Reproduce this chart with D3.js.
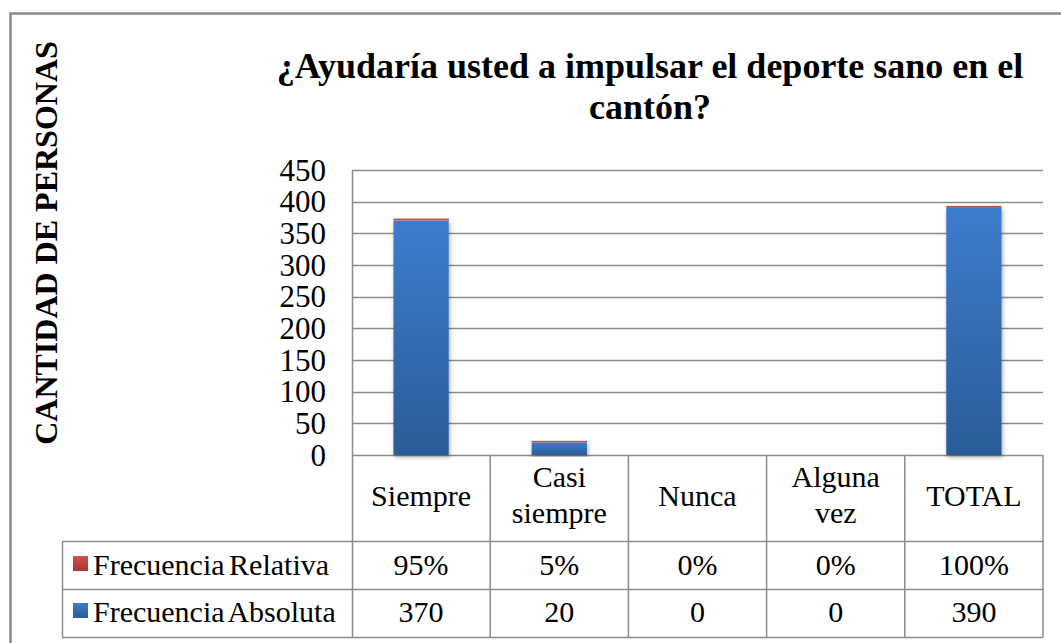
<!DOCTYPE html>
<html>
<head>
<meta charset="utf-8">
<script src="https://cdn.jsdelivr.net/npm/d3@7"></script>
<style>
  body { margin: 0; background: #fff; }
</style>
</head>
<body>
<div id="chart"></div>
<script>
// data
var categories = ["Siempre", "Casi siempre", "Nunca", "Alguna vez", "TOTAL"];
var categoryLines = [["Siempre"], ["Casi", "siempre"], ["Nunca"], ["Alguna", "vez"], ["TOTAL"]];
var absoluta = [370, 20, 0, 0, 390];
var relativa = [0.95, 0.05, 0, 0, 1];
var relativaLabels = ["95%", "5%", "0%", "0%", "100%"];
var absolutaLabels = ["370", "20", "0", "0", "390"];
var seriesNames = ["Frecuencia Relativa", "Frecuencia Absoluta"];

var serif = "'Liberation Serif', 'Times New Roman', serif";
var width = 1061, height = 643;
var plot = {left: 352, right: 1043, top: 170, bottom: 455};
var tableLeft = 62, rowTop = 541, rowMid = 589, rowBottom = 637;

var svg = d3.select("#chart").append("svg")
	.attr("width", width)
	.attr("height", height)
	.attr("font-family", serif);

var defs = svg.append("defs");

var blueGrad = defs.append("linearGradient").attr("id", "blueGrad")
	.attr("x1", 0).attr("y1", 0).attr("x2", 0).attr("y2", 1);
blueGrad.append("stop").attr("offset", "0%").attr("stop-color", "#3b7dcd");
blueGrad.append("stop").attr("offset", "100%").attr("stop-color", "#2b5c98");

var redGrad = defs.append("linearGradient").attr("id", "redGrad")
	.attr("x1", 0).attr("y1", 0).attr("x2", 0).attr("y2", 1);
redGrad.append("stop").attr("offset", "0%").attr("stop-color", "#d2504c");
redGrad.append("stop").attr("offset", "100%").attr("stop-color", "#a83532");

var shadow = defs.append("filter").attr("id", "shadow")
	.attr("x", "-20%").attr("y", "-5%").attr("width", "150%").attr("height", "115%");
shadow.append("feDropShadow")
	.attr("dx", 1).attr("dy", 2).attr("stdDeviation", 2)
	.attr("flood-color", "#000").attr("flood-opacity", 0.35);

// outer frame (runs off the right and bottom edge)
svg.append("rect")
	.attr("x", 10.5).attr("y", 13.5)
	.attr("width", 1100).attr("height", 700)
	.attr("fill", "none")
	.attr("stroke", "#8a8a8a")
	.attr("stroke-width", 2.5);

var x = d3.scaleBand()
	.domain(categories)
	.range([plot.left, plot.right])
	.paddingInner(0)
	.paddingOuter(0);

var y = d3.scaleLinear()
	.domain([0, 450])
	.range([plot.bottom, plot.top]);

var ticks = y.ticks(9);

function txt(sel, size, weight) {
	return sel.style("font-family", serif)
		.style("font-size", size + "px")
		.style("font-weight", weight || "normal")
		.attr("fill", "#000");
}

// gridlines
svg.append("g")
	.selectAll("line")
	.data(ticks)
	.enter().append("line")
	.attr("x1", plot.left)
	.attr("x2", plot.right)
	.attr("y1", function(d) { return Math.round(y(d)) + 0.5; })
	.attr("y2", function(d) { return Math.round(y(d)) + 0.5; })
	.attr("stroke", "#8c8c8c")
	.attr("stroke-width", 1.5);

// y tick labels
txt(svg.append("g")
	.selectAll("text")
	.data(ticks)
	.enter().append("text")
	.attr("x", 326)
	.attr("y", function(d) { return y(d); })
	.attr("dy", "0.34em")
	.attr("text-anchor", "end")
	.text(function(d) { return d; }), 31);

// stacked bars: absoluta bottom, relativa on top
var rows = categories.map(function(c, i) {
	return {cat: c, abs: absoluta[i], rel: relativa[i]};
});
var stacked = d3.stack().keys(["abs", "rel"])(rows);

var barW = x.bandwidth() * 0.4;
var barOff = (x.bandwidth() - barW) / 2;

svg.append("g")
	.selectAll("rect")
	.data(stacked[0].filter(function(d) { return d[1] > d[0]; }))
	.enter().append("rect")
	.attr("x", function(d) { return x(d.data.cat) + barOff; })
	.attr("width", barW)
	.attr("y", function(d) { return y(d[1]); })
	.attr("height", function(d) { return y(d[0]) - y(d[1]); })
	.attr("fill", "url(#blueGrad)")
	.attr("filter", "url(#shadow)");

svg.append("g")
	.selectAll("rect")
	.data(stacked[1].filter(function(d) { return d[1] > d[0]; }))
	.enter().append("rect")
	.attr("x", function(d) { return x(d.data.cat) + barOff + 0.6; })
	.attr("width", barW - 1.2)
	.attr("y", function(d) { return y(d[1]) - 0.8; })
	.attr("height", function(d) { return y(d[0]) - y(d[1]); })
	.attr("fill", "#c0504d")
	.attr("stroke", "#c0504d")
	.attr("stroke-width", 1.4);

// data table
var tbl = svg.append("g").attr("stroke", "#8c8c8c").attr("stroke-width", 1.5);

tbl.append("line")
	.attr("x1", plot.left + 0.5).attr("x2", plot.left + 0.5)
	.attr("y1", plot.top).attr("y2", rowBottom);

tbl.selectAll("line.col")
	.data(categories)
	.enter().append("line")
	.attr("class", "col")
	.attr("x1", function(d) { return x(d) + x.bandwidth(); })
	.attr("x2", function(d) { return x(d) + x.bandwidth(); })
	.attr("y1", plot.bottom)
	.attr("y2", rowBottom);

tbl.selectAll("line.row")
	.data([rowTop, rowMid, rowBottom])
	.enter().append("line")
	.attr("class", "row")
	.attr("x1", tableLeft)
	.attr("x2", plot.right)
	.attr("y1", function(d) { return d + 0.5; })
	.attr("y2", function(d) { return d + 0.5; });

tbl.append("line")
	.attr("x1", tableLeft + 0.5).attr("x2", tableLeft + 0.5)
	.attr("y1", rowTop).attr("y2", rowBottom);

// category header text
var header = txt(svg.append("g")
	.selectAll("text")
	.data(categoryLines)
	.enter().append("text")
	.attr("text-anchor", "middle")
	.attr("transform", function(d, i) {
		return "translate(" + (x(categories[i]) + x.bandwidth() / 2) + ",0)";
	}), 30);

header.selectAll("tspan")
	.data(function(d) { return d; })
	.enter().append("tspan")
	.attr("x", 0)
	.attr("y", function(d, j, nodes) {
		return nodes.length === 1 ? 506 : 487 + j * 36;
	})
	.text(function(d) { return d; });

// value rows
var valueRows = [relativaLabels, absolutaLabels];
var rowBase = [575, 622];

valueRows.forEach(function(vals, r) {
	txt(svg.append("g")
		.selectAll("text")
		.data(vals)
		.enter().append("text")
		.attr("x", function(d, i) { return x(categories[i]) + x.bandwidth() / 2; })
		.attr("y", rowBase[r])
		.attr("text-anchor", "middle")
		.text(function(d) { return d; }), 30);
});

// legend keys in the table
var legendFill = ["url(#redGrad)", "url(#blueGrad)"];
seriesNames.forEach(function(name, r) {
	svg.append("rect")
		.attr("x", 73)
		.attr("y", rowBase[r] - 19)
		.attr("width", 15)
		.attr("height", 15)
		.attr("fill", legendFill[r]);
	txt(svg.append("text")
		.attr("x", 93)
		.attr("y", rowBase[r])
		.style("word-spacing", "-3px")
		.text(name), 30);
});

// title
var title = txt(svg.append("text")
	.attr("text-anchor", "middle"), 36, "bold");
title.append("tspan").attr("x", 650).attr("y", 78)
	.text("¿Ayudaría usted a impulsar el deporte sano en el");
title.append("tspan").attr("x", 650).attr("y", 119)
	.text("cantón?");

// y axis title
txt(svg.append("text")
	.attr("transform", "translate(57,243) rotate(-90)")
	.attr("text-anchor", "middle")
	.text("CANTIDAD DE PERSONAS"), 32, "bold");
</script>
</body>
</html>
